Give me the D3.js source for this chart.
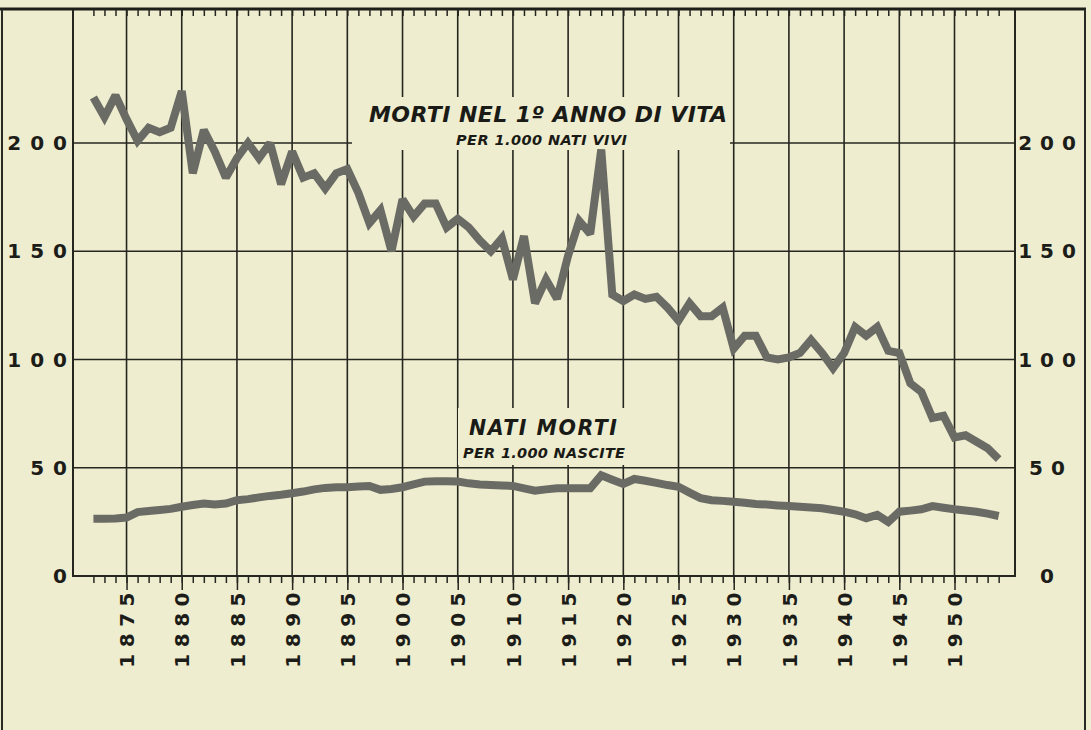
<!DOCTYPE html>
<html lang="it">
<head>
    <meta charset="UTF-8">
    <title>Morti nel 1º anno di vita e nati morti</title>
    <style>
        body {
    margin: 0;
    background: #eeedcf;
}
#chart svg {
    display: block;
}
.grid line {
    stroke: #262620;
    stroke-width: 1.6;
}
.axis line {
    stroke: #262620;
    stroke-width: 1.5;
}
.axis text, .ylab {
    font-family: "DejaVu Sans", sans-serif;
    font-weight: bold;
    fill: #1c1c18;
}
.title {
    font-family: "DejaVu Sans", sans-serif;
    font-weight: bold;
    font-style: italic;
    fill: #1a1a16;
}
.serie {
    fill: none;
    stroke: #6b6b65;
    stroke-width: 8;
    stroke-linejoin: miter;
    stroke-miterlimit: 2.2;
}
    </style>
    <script src="https://d3js.org/d3.v7.min.js"></script>
</head>
<body>
    <div id="chart"></div>
    <script>
// anni (asse x)
const anni = [1872, 1873, 1874, 1875, 1876, 1877, 1878, 1879, 1880, 1881,
    1882, 1883, 1884, 1885, 1886, 1887, 1888, 1889, 1890, 1891,
    1892, 1893, 1894, 1895, 1896, 1897, 1898, 1899, 1900, 1901,
    1902, 1903, 1904, 1905, 1906, 1907, 1908, 1909, 1910, 1911,
    1912, 1913, 1914, 1915, 1916, 1917, 1918, 1919, 1920, 1921,
    1922, 1923, 1924, 1925, 1926, 1927, 1928, 1929, 1930, 1931,
    1932, 1933, 1934, 1935, 1936, 1937, 1938, 1939, 1940, 1941,
    1942, 1943, 1944, 1945, 1946, 1947, 1948, 1949, 1950, 1951,
    1952, 1953, 1954];

// morti nel 1° anno di vita per 1.000 nati vivi
const mortiPrimoAnno = [221, 212, 222, 211, 201, 207, 205, 207, 224, 186,
    206, 196, 184, 193, 200, 193, 200, 181, 196, 184,
    186, 179, 186, 188, 177, 163, 169, 150, 174, 166,
    172, 172, 161, 165, 161, 155, 150, 156, 137, 157,
    126, 137, 128, 148, 164, 158, 197, 130, 127, 130,
    128, 129, 124, 118, 126, 120, 120, 124, 105, 111,
    111, 101, 100, 101, 103, 109, 103, 96, 103, 115,
    111, 115, 104, 103, 89, 85, 73, 74, 64, 65,
    62, 59, 54];

// nati morti per 1.000 nascite
const natiMorti = [26.5, 26.5, 26.6, 27, 29.5, 30, 30.5, 31, 32, 32.8,
    33.5, 33, 33.5, 35, 35.5, 36.3, 37, 37.5, 38.2, 39,
    40, 40.7, 41, 41, 41.3, 41.6, 39.8, 40.2, 41, 42.3,
    43.6, 43.8, 43.8, 43.6, 42.8, 42.3, 42, 41.8, 41.6, 40.5,
    39.4, 40, 40.5, 40.5, 40.5, 40.5, 46.5, 44.5, 42.5, 44.8,
    44, 43, 42, 41.2, 38.5, 36, 35, 34.7, 34.3, 33.8,
    33.3, 33, 32.6, 32.3, 32, 31.6, 31.3, 30.5, 29.7, 28.5,
    26.7, 28.2, 25, 29.7, 30.2, 30.8, 32.3, 31.5, 30.8, 30.3,
    29.7, 28.8, 27.7];

const anniEtichette = [1875, 1880, 1885, 1890, 1895, 1900, 1905, 1910,
    1915, 1920, 1925, 1930, 1935, 1940, 1945, 1950];
const yTicks = [0, 50, 100, 150, 200];

const W = 1091, H = 730;
const plot = {left: 73, right: 1015, top: 9, bottom: 576};

const svg = d3.select("#chart")
    .append("svg")
    .attr("width", W)
    .attr("height", H);

svg.append("rect")
    .attr("width", W)
    .attr("height", H)
    .attr("fill", "#eeedcf");

const x = d3.scaleLinear()
    .domain([1870.15, 1955.48])
    .range([plot.left, plot.right]);

const y = d3.scaleLinear()
    .domain([0, 200])
    .range([plot.bottom, 143]);

// griglia
const grid = svg.append("g").attr("class", "grid");
grid.selectAll(".v")
    .data(anniEtichette)
    .enter().append("line")
    .attr("x1", d => x(d)).attr("x2", d => x(d))
    .attr("y1", plot.top).attr("y2", plot.bottom);
grid.selectAll(".h")
    .data(yTicks.slice(1))
    .enter().append("line")
    .attr("x1", plot.left).attr("x2", plot.right)
    .attr("y1", d => y(d)).attr("y2", d => y(d));

// cornice
svg.append("rect")
    .attr("x", plot.left).attr("y", plot.top)
    .attr("width", plot.right - plot.left)
    .attr("height", plot.bottom - plot.top)
    .attr("fill", "none")
    .attr("stroke", "#262620")
    .attr("stroke-width", 2);

// bordi della pagina
svg.append("line")
    .attr("x1", 0).attr("x2", 1086)
    .attr("y1", plot.top).attr("y2", plot.top)
    .attr("stroke", "#1e1e1a").attr("stroke-width", 3);
svg.append("line")
    .attr("x1", 2).attr("x2", 2)
    .attr("y1", plot.top).attr("y2", H)
    .attr("stroke", "#2a2a24").attr("stroke-width", 2);
svg.append("line")
    .attr("x1", 1085).attr("x2", 1085)
    .attr("y1", plot.top).attr("y2", H)
    .attr("stroke", "#2a2a24").attr("stroke-width", 2);

// tacche annuali (sotto e sopra)
svg.append("g")
    .attr("class", "axis")
    .attr("transform", "translate(0," + plot.bottom + ")")
    .call(d3.axisBottom(x).tickValues(anni).tickSize(7).tickFormat(""))
    .call(g => g.select(".domain").remove());
svg.append("g")
    .attr("class", "axis")
    .attr("transform", "translate(0," + plot.top + ")")
    .call(d3.axisBottom(x).tickValues(anni).tickSize(7).tickFormat(""))
    .call(g => g.select(".domain").remove());

// anni principali con etichette ruotate
svg.append("g")
    .attr("class", "axis")
    .attr("transform", "translate(0," + plot.bottom + ")")
    .call(d3.axisBottom(x).tickValues(anniEtichette).tickSize(14).tickFormat(d => d))
    .call(g => g.select(".domain").remove())
    .call(g => g.selectAll("text")
        .attr("transform", "rotate(-90)")
        .attr("text-anchor", "end")
        .attr("x", -10)
        .attr("y", 0)
        .attr("dy", "0.36em")
        .attr("font-size", 20)
        .attr("letter-spacing", 6.5));

// etichette asse y, sinistra e destra
svg.selectAll(".ylab-l")
    .data(yTicks)
    .enter().append("text")
    .attr("class", "ylab")
    .attr("x", 76)
    .attr("y", d => y(d))
    .attr("dy", "0.36em")
    .attr("text-anchor", "end")
    .attr("font-size", 20)
    .attr("letter-spacing", 9)
    .text(d => d);
svg.selectAll(".ylab-r")
    .data(yTicks)
    .enter().append("text")
    .attr("class", "ylab")
    .attr("x", 1051)
    .attr("y", d => y(d))
    .attr("dy", "0.36em")
    .attr("text-anchor", "middle")
    .attr("font-size", 20)
    .attr("letter-spacing", 8)
    .text(d => d);

// fondi dietro i titoli
svg.append("rect")
    .attr("x", 352).attr("y", 97)
    .attr("width", 378).attr("height", 53)
    .attr("fill", "#eeedcf");
svg.append("rect")
    .attr("x", 458).attr("y", 408)
    .attr("width", 174).attr("height", 57)
    .attr("fill", "#eeedcf");

// linee
const line = d3.line()
    .x((d, i) => x(anni[i]))
    .y(d => y(d));

svg.append("path")
    .datum(natiMorti)
    .attr("class", "serie")
    .attr("d", line);

svg.append("path")
    .datum(mortiPrimoAnno)
    .attr("class", "serie")
    .attr("d", line);

// titoli
const titoli = [
    {t: "MORTI NEL 1º ANNO DI VITA", x: 369, y: 122, s: 22, w: 358},
    {t: "PER 1.000 NATI VIVI", x: 456, y: 145, s: 14.5, w: 171},
    {t: "NATI MORTI", x: 469, y: 435, s: 20.5, w: 148},
    {t: "PER 1.000 NASCITE", x: 463, y: 458, s: 14.5, w: 162}
];
svg.selectAll(".title")
    .data(titoli)
    .enter().append("text")
    .attr("class", "title")
    .attr("x", d => d.x)
    .attr("y", d => d.y)
    .attr("font-size", d => d.s)
    .attr("textLength", d => d.w)
    .attr("lengthAdjust", "spacing")
    .text(d => d.t);
    </script>
</body>
</html>
